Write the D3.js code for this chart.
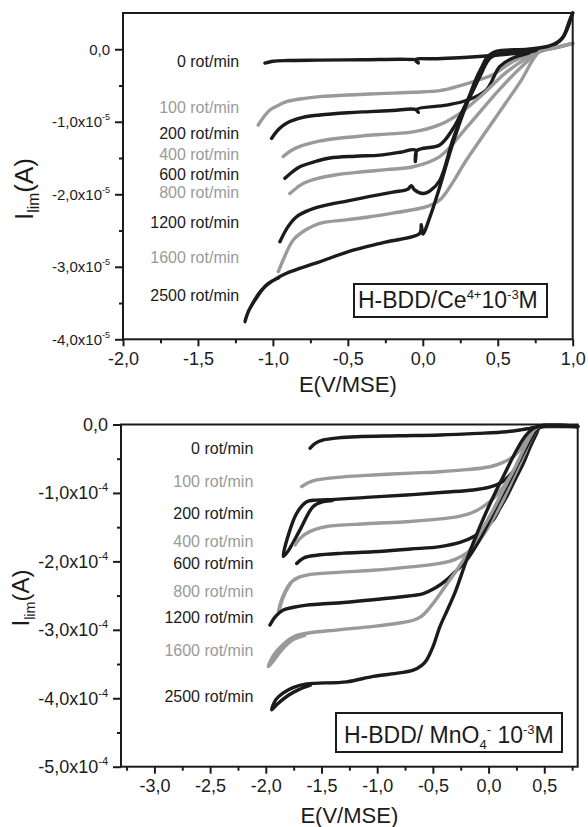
<!DOCTYPE html>
<html>
<head>
<meta charset="utf-8">
<script src="https://cdn.jsdelivr.net/npm/d3@7"></script>
<style>
  body { margin: 0; background: #fff; }
  svg { display: block; }
  text { font-family: "Liberation Sans", Arial, sans-serif; }
</style>
</head>
<body>
<div class="chart-container"></div>
<script>
// rotation speeds (same order for both panels)
var rpm = [0, 100, 200, 400, 600, 800, 1200, 1600, 2500];

// top panel: Ce4+, E in V/MSE, I in units of 1e-5 A
var ceXTicks = [-2, -1.5, -1, -0.5, 0, 0.5, 1];
var ceXMinor = [-1.75, -1.25, -0.75, -0.25, 0.25, 0.75];
var ceYTicks = [0, -1, -2, -3, -4];
var ceYMinor = [-0.5, -1.5, -2.5, -3.5];
var ceCurves = [
  [[-1.053,-0.19],[-1.0,-0.165],[-0.9,-0.155],[-0.7,-0.15],[-0.4,-0.145],[-0.1,-0.14],[-0.04,-0.15],[-0.03,-0.19],[-0.05,-0.145],[0.1,-0.13],[0.3,-0.11],[0.5,-0.08],[0.65,-0.05],[0.8,-0.01],[0.88,0.06],[0.936,0.17],[0.98,0.4],[1.0,0.5]],
  [[-1.098,-1.044],[-1.06,-0.93],[-1.02,-0.838],[-0.96,-0.77],[-0.909,-0.723],[-0.8,-0.68],[-0.687,-0.654],[-0.5,-0.63],[-0.353,-0.617],[-0.2,-0.605],[-0.064,-0.593],[0.113,-0.571],[0.269,-0.49],[0.38,-0.42],[0.469,-0.35],[0.602,-0.17],[0.78,-0.03],[0.88,0.02],[1.0,0.08]],
  [[-1.009,-1.23],[-0.96,-1.1],[-0.909,-1.02],[-0.8,-0.94],[-0.687,-0.906],[-0.5,-0.875],[-0.353,-0.86],[-0.2,-0.845],[-0.05,-0.83],[-0.03,-0.87],[-0.04,-0.83],[0.158,-0.77],[0.3,-0.7],[0.424,-0.56],[0.513,-0.24],[0.602,-0.12],[0.8,-0.01]],
  [[-0.931,-1.48],[-0.88,-1.4],[-0.82,-1.34],[-0.7,-1.27],[-0.576,-1.23],[-0.4,-1.195],[-0.242,-1.17],[-0.064,-1.14],[0.113,-1.04],[0.25,-0.88],[0.4,-0.62],[0.55,-0.33],[0.68,-0.14],[0.78,-0.03],[0.88,0.02],[1.0,0.08]],
  [[-0.92,-1.78],[-0.87,-1.69],[-0.82,-1.62],[-0.72,-1.55],[-0.62,-1.5],[-0.45,-1.475],[-0.287,-1.46],[-0.15,-1.42],[-0.05,-1.39],[-0.05,-1.55],[-0.04,-1.4],[0.113,-1.32],[0.2,-1.1],[0.3,-0.7],[0.38,-0.38],[0.45,-0.12],[0.55,-0.05],[0.8,-0.01]],
  [[-0.887,-1.99],[-0.84,-1.91],[-0.798,-1.85],[-0.7,-1.78],[-0.576,-1.73],[-0.4,-1.69],[-0.242,-1.66],[-0.064,-1.62],[0.113,-1.48],[0.3,-1.06],[0.5,-0.58],[0.65,-0.26],[0.78,-0.03],[0.88,0.02],[1.0,0.08]],
  [[-0.953,-2.654],[-0.9,-2.45],[-0.842,-2.31],[-0.76,-2.22],[-0.687,-2.17],[-0.5,-2.09],[-0.353,-2.03],[-0.2,-1.97],[-0.1,-1.93],[-0.076,-1.88],[-0.055,-1.94],[0.002,-1.99],[0.05,-1.95],[0.113,-1.81],[0.2,-1.25],[0.3,-0.7],[0.38,-0.3],[0.45,-0.1],[0.6,-0.05],[0.8,-0.01]],
  [[-0.964,-3.067],[-0.92,-2.85],[-0.864,-2.63],[-0.78,-2.49],[-0.687,-2.4],[-0.5,-2.35],[-0.353,-2.31],[-0.2,-2.26],[-0.087,-2.22],[0.024,-2.17],[0.113,-2.08],[0.3,-1.5],[0.5,-0.9],[0.65,-0.45],[0.78,-0.03],[0.88,0.02],[1.0,0.08]],
  [[-0.96,-3.15],[-1.03,-3.23],[-1.09,-3.36],[-1.14,-3.52],[-1.17,-3.65],[-1.187,-3.757],[-1.16,-3.6],[-1.11,-3.43],[-1.06,-3.29],[-1.0,-3.19],[-0.909,-3.09],[-0.7,-2.94],[-0.464,-2.77],[-0.25,-2.66],[-0.02,-2.54],[-0.01,-2.42],[0.0,-2.55],[0.05,-2.3],[0.113,-1.9],[0.2,-1.3],[0.3,-0.72],[0.358,-0.47],[0.424,-0.124],[0.49,-0.03],[0.7,0.0],[0.85,0.05],[0.93,0.15],[1.0,0.5]]
];

// bottom panel: MnO4-, E in V/MSE, I in units of 1e-4 A
var mnXTicks = [-3, -2.5, -2, -1.5, -1, -0.5, 0, 0.5];
var mnXMinor = [-3.25, -2.75, -2.25, -1.75, -1.25, -0.75, -0.25, 0.25, 0.75];
var mnYTicks = [0, -1, -2, -3, -4, -5];
var mnYMinor = [-0.5, -1.5, -2.5, -3.5, -4.5];
var mnCurves = [
  [[-1.602,-0.346],[-1.56,-0.28],[-1.484,-0.226],[-1.35,-0.195],[-1.184,-0.178],[-0.8,-0.165],[-0.436,-0.153],[-0.1,-0.13],[0.162,-0.105],[0.3,-0.075],[0.371,-0.056],[0.461,-0.032],[0.6,-0.03],[0.8,-0.03]],
  [[-1.678,-0.908],[-1.62,-0.85],[-1.543,-0.81],[-1.3,-0.765],[-1.035,-0.738],[-0.7,-0.71],[-0.436,-0.69],[-0.2,-0.66],[0.012,-0.617],[0.12,-0.56],[0.222,-0.47],[0.3,-0.33],[0.342,-0.226],[0.432,-0.056],[0.5,-0.03],[0.8,-0.03]],
  [[-1.4,-1.11],[-1.484,-1.128],[-1.574,-1.197],[-1.693,-1.54],[-1.8,-1.85],[-1.843,-1.93],[-1.783,-1.54],[-1.723,-1.297],[-1.633,-1.128],[-1.55,-1.105],[-1.454,-1.1],[-1.1,-1.065],[-0.735,-1.03],[-0.4,-0.99],[-0.137,-0.957],[0.0,-0.92],[0.102,-0.859],[0.18,-0.76],[0.252,-0.617],[0.31,-0.44],[0.371,-0.226],[0.446,-0.03],[0.8,-0.03]],
  [[-1.738,-1.76],[-1.69,-1.66],[-1.633,-1.59],[-1.55,-1.53],[-1.454,-1.49],[-1.1,-1.45],[-0.735,-1.42],[-0.5,-1.39],[-0.287,-1.35],[-0.15,-1.29],[-0.048,-1.2],[0.05,-1.07],[0.132,-0.908],[0.21,-0.72],[0.282,-0.519],[0.35,-0.32],[0.401,-0.153],[0.44,-0.04],[0.8,-0.03]],
  [[-1.723,-2.03],[-1.66,-1.95],[-1.543,-1.91],[-1.3,-1.88],[-1.035,-1.86],[-0.7,-1.82],[-0.436,-1.785],[-0.25,-1.72],[-0.137,-1.64],[-0.04,-1.53],[0.042,-1.395],[0.1,-1.23],[0.162,-1.055],[0.24,-0.8],[0.312,-0.567],[0.37,-0.34],[0.432,-0.129],[0.46,-0.04],[0.8,-0.03]],
  [[-1.7,-2.23],[-1.77,-2.3],[-1.83,-2.45],[-1.87,-2.62],[-1.888,-2.76],[-1.85,-2.55],[-1.8,-2.38],[-1.74,-2.26],[-1.633,-2.2],[-1.35,-2.16],[-1.035,-2.13],[-0.7,-2.08],[-0.436,-2.03],[-0.3,-1.97],[-0.197,-1.88],[-0.1,-1.73],[-0.017,-1.54],[0.06,-1.32],[0.132,-1.1],[0.22,-0.79],[0.312,-0.47],[0.38,-0.22],[0.432,-0.08],[0.46,-0.035],[0.8,-0.03]],
  [[-1.963,-2.93],[-1.91,-2.8],[-1.843,-2.71],[-1.75,-2.67],[-1.633,-2.64],[-1.3,-2.6],[-1.035,-2.56],[-0.8,-2.52],[-0.586,-2.47],[-0.48,-2.39],[-0.376,-2.27],[-0.28,-2.12],[-0.197,-1.98],[-0.1,-1.74],[-0.017,-1.49],[0.07,-1.2],[0.162,-0.91],[0.25,-0.62],[0.342,-0.324],[0.4,-0.15],[0.446,-0.056],[0.48,-0.03],[0.8,-0.03]],
  [[-1.65,-3.08],[-1.75,-3.14],[-1.85,-3.28],[-1.93,-3.45],[-1.978,-3.54],[-1.93,-3.37],[-1.843,-3.21],[-1.75,-3.1],[-1.633,-3.05],[-1.35,-3.0],[-1.035,-2.95],[-0.8,-2.9],[-0.676,-2.86],[-0.6,-2.8],[-0.496,-2.61],[-0.4,-2.39],[-0.287,-2.13],[-0.18,-1.86],[-0.078,-1.59],[0.03,-1.28],[0.132,-0.957],[0.24,-0.62],[0.342,-0.275],[0.41,-0.08],[0.45,-0.03],[0.8,-0.03]],
  [[-1.6,-3.81],[-1.7,-3.87],[-1.8,-3.96],[-1.9,-4.09],[-1.947,-4.17],[-1.91,-4.02],[-1.843,-3.92],[-1.75,-3.84],[-1.633,-3.79],[-1.274,-3.76],[-1.035,-3.68],[-0.8,-3.63],[-0.676,-3.59],[-0.6,-3.52],[-0.556,-3.44],[-0.5,-3.25],[-0.436,-2.95],[-0.37,-2.71],[-0.3,-2.45],[-0.197,-1.98],[-0.08,-1.5],[0.042,-1.055],[0.15,-0.7],[0.252,-0.373],[0.33,-0.17],[0.401,-0.056],[0.45,-0.03],[0.8,-0.03]]
];

var black = '#1b1b1b';
var gray = '#9a9a9a';

function comma(d) {
  return (d < 0 ? '-' : '') + Math.abs(d).toFixed(1).replace('.', ',');
}

var svg = d3.select('.chart-container').append('svg')
  .attr('width', 588)
  .attr('height', 827);

function drawPanel(p) {
  var x = d3.scaleLinear().domain(p.xDomain).range([p.left, p.right]);
  var y = d3.scaleLinear().domain(p.yDomain).range([p.bottom, p.top]);
  var g = svg.append('g');

  var line = d3.line()
    .x(d => x(d[0]))
    .y(d => y(d[1]))
    .curve(d3.curveCatmullRom.alpha(0.5));

  // curves
  g.selectAll('.curve')
    .data(p.curves)
    .enter().append('path')
      .attr('class', 'curve')
      .attr('d', d => line(d))
      .style('fill', 'none')
      .style('stroke', (d, i) => i % 2 ? gray : black)
      .style('stroke-width', 3.4)
      .style('stroke-linejoin', 'round')
      .style('stroke-linecap', 'round');

  // frame
  g.append('rect')
    .attr('x', p.left).attr('y', p.top)
    .attr('width', p.right - p.left).attr('height', p.bottom - p.top)
    .style('fill', 'none').style('stroke', black).style('stroke-width', 2);

  // x axis
  var gX = g.append('g')
    .attr('transform', `translate(0,${p.bottom})`)
    .call(d3.axisBottom(x).tickValues(p.xTicks).tickSize(7).tickPadding(6).tickFormat(comma));
  g.append('g')
    .attr('transform', `translate(0,${p.bottom})`)
    .call(d3.axisBottom(x).tickValues(p.xMinor).tickSize(4).tickFormat(''));

  // y axis
  var gY = g.append('g')
    .attr('transform', `translate(${p.left},0)`)
    .call(d3.axisLeft(y).tickValues(p.yTicks).tickSize(8).tickPadding(5));
  g.append('g')
    .attr('transform', `translate(${p.left},0)`)
    .call(d3.axisLeft(y).tickValues(p.yMinor).tickSize(4).tickFormat(''));

  g.selectAll('.domain').remove();
  g.selectAll('.tick line').style('stroke', black).style('stroke-width', 2);

  gX.selectAll('.tick text')
    .style('font-size', p.xFont + 'px')
    .style('fill', black);

  gY.selectAll('.tick text').each(function(d) {
    var t = d3.select(this).text(null)
      .style('font-size', p.yFont + 'px')
      .style('fill', black);
    if (d === 0) {
      t.append('tspan').text('0,0');
    } else {
      t.append('tspan').text(comma(d) + 'x10');
      t.append('tspan')
        .attr('dy', -p.supShift)
        .style('font-size', p.supFont + 'px')
        .text(p.exp);
    }
  });

  // rotation labels
  g.selectAll('.rpm')
    .data(rpm)
    .enter().append('text')
      .attr('class', 'rpm')
      .attr('x', x(p.labelE))
      .attr('y', (d, i) => y(p.labelAt[i]))
      .attr('dy', '0.35em')
      .attr('text-anchor', 'end')
      .style('font-size', '16px')
      .style('fill', (d, i) => i % 2 ? gray : black)
      .text(d => d + ' rot/min');

  // axis titles
  g.append('text')
    .attr('x', (p.left + p.right) / 2)
    .attr('y', p.xTitleY)
    .attr('text-anchor', 'middle')
    .style('font-size', '22px')
    .style('fill', black)
    .text('E(V/MSE)');

  var yt = g.append('text')
    .attr('transform', `translate(${p.yTitleX},${p.yTitleY}) rotate(-90)`)
    .attr('text-anchor', 'middle')
    .style('font-size', p.yTitleFont + 'px')
    .style('fill', black);
  yt.append('tspan').text('I');
  yt.append('tspan').attr('dy', 6).style('font-size', (p.yTitleFont * 0.6) + 'px').text('lim');
  yt.append('tspan').attr('dy', -6).text('(A)');

  // legend box
  g.append('rect')
    .attr('x', p.box[0]).attr('y', p.box[1])
    .attr('width', p.box[2]).attr('height', p.box[3])
    .style('fill', '#fff').style('stroke', black).style('stroke-width', 2);
  var lt = g.append('text')
    .attr('x', p.box[0] + p.textPad)
    .attr('y', p.box[1] + p.box[3] - 9)
    .style('font-size', '23px')
    .style('fill', black);
  p.legend.forEach(function(part) {
    var s = lt.append('tspan').text(part[0]);
    if (part[1]) s.attr('dy', part[1]).style('font-size', '13px');
    if (part[2]) s.attr('dy', part[2]);
  });
}

drawPanel({
  left: 123, right: 572.7, top: 13, bottom: 339.3,
  xDomain: [-2, 1], yDomain: [-4, 0.5],
  xTicks: ceXTicks, xMinor: ceXMinor, yTicks: ceYTicks, yMinor: ceYMinor,
  curves: ceCurves,
  xFont: 18, yFont: 15, supFont: 9, supShift: 7, exp: '-5',
  labelE: -1.225,
  labelAt: [-0.17, -0.8, -1.16, -1.444, -1.72, -1.98, -2.39, -2.87, -3.4],
  xTitleY: 392, yTitleX: 33, yTitleY: 189, yTitleFont: 26,
  box: [354, 284, 193, 33], textPad: 4,
  legend: [['H-BDD/Ce'], ['4+', -9], ['10', null, 9], ['-3', -9], ['M', null, 9]]
});

drawPanel({
  left: 121, right: 577.7, top: 424.5, bottom: 766.7,
  xDomain: [-3.3, 0.8], yDomain: [-5, 0],
  xTicks: mnXTicks, xMinor: mnXMinor, yTicks: mnYTicks, yMinor: mnYMinor,
  curves: mnCurves,
  xFont: 18, yFont: 18, supFont: 11, supShift: 8, exp: '-4',
  labelE: -2.112,
  labelAt: [-0.35, -0.836, -1.297, -1.712, -2.028, -2.432, -2.817, -3.305, -3.977],
  xTitleY: 823, yTitleX: 29, yTitleY: 598, yTitleFont: 24,
  box: [336, 713, 226, 39], textPad: 8,
  legend: [['H-BDD/ MnO'], ['4', 6], ['-', -15], [' 10', null, 9], ['-3', -9], ['M', null, 9]]
});
</script>
</body>
</html>
